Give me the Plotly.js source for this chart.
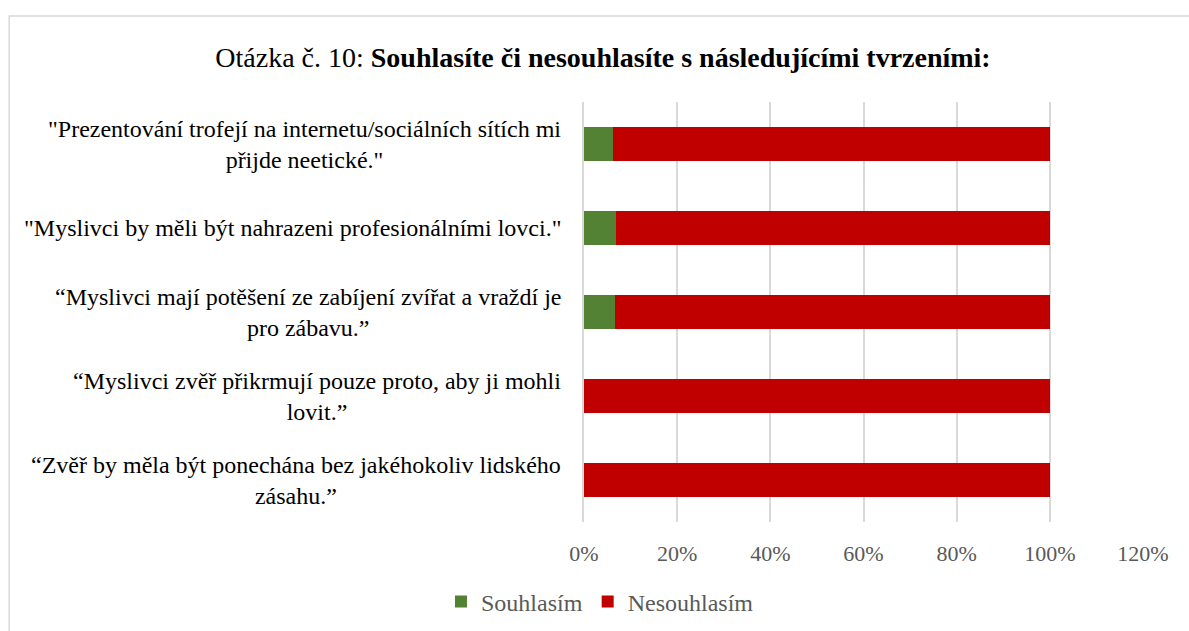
<!DOCTYPE html>
<html>
<head>
<meta charset="utf-8">
<script src="https://cdn.plot.ly/plotly-3.0.1.min.js"></script>
<style>
  html, body { margin: 0; padding: 0; background: #fff; }
  #chart { width: 1189px; height: 631px; }
</style>
</head>
<body>
<div id="chart"></div>
<script>
// Data
const categories = [
  '"Prezentování trofejí na internetu/sociálních sítích mi<br>přijde neetické."',
  '"Myslivci by měli být nahrazeni profesionálními lovci."',
  '“Myslivci mají potěšení ze zabíjení zvířat a vraždí je<br>pro zábavu.”',
  '“Myslivci zvěř přikrmují pouze proto, aby ji mohli<br>lovit.”',
  '“Zvěř by měla být ponechána bez jakéhokoliv lidského<br>zásahu.”'
];
const souhlasim = [0.063, 0.068, 0.067, 0, 0];
const nesouhlasim = [0.937, 0.932, 0.933, 1, 1];
const seriesNames = ['Souhlasím', 'Nesouhlasím'];
const tickValues = [0, 0.2, 0.4, 0.6, 0.8, 1.0, 1.2];
const tickLabels = ['0%', '20%', '40%', '60%', '80%', '100%', '120%'];

const serif = 'Liberation Serif, serif';

const traces = [
  {
    type: 'bar', orientation: 'h', name: seriesNames[0],
    y: categories, x: souhlasim,
    marker: { color: '#548235' }, hoverinfo: 'x+name'
  },
  {
    type: 'bar', orientation: 'h', name: seriesNames[1],
    y: categories, x: nesouhlasim,
    marker: { color: '#C00000' }, hoverinfo: 'x+name'
  }
];

const annotations = categories.map(c => ({
  xref: 'paper', yref: 'y', x: 0, y: c,
  xanchor: 'right', yanchor: 'middle', xshift: -21,
  align: 'center', showarrow: false,
  text: c,
  font: { family: serif, size: 24, color: '#000000' }
}));

const layout = {
  width: 1189, height: 631,
  paper_bgcolor: '#ffffff', plot_bgcolor: '#ffffff',
  margin: { l: 584, r: 46, t: 102, b: 109 },
  barmode: 'stack', bargap: 0.6,
  font: { family: serif },
  title: {
    text: 'Otázka č. 10: <b>Souhlasíte či nesouhlasíte s následujícími tvrzeními:</b>',
    font: { family: serif, size: 28, color: '#000000' },
    x: 603 / 1189, xref: 'container', xanchor: 'center',
    y: 1 - 57 / 631, yref: 'container', yanchor: 'middle'
  },
  xaxis: {
    range: [0, 1.2], tickvals: tickValues, ticktext: tickLabels,
    showgrid: true, gridcolor: '#d9d9d9', gridwidth: 1.5,
    zeroline: false, showline: false, ticks: '',
    tickfont: { family: serif, size: 22, color: '#595959' },
    ticklabelstandoff: 16, fixedrange: true
  },
  yaxis: {
    type: 'category', autorange: 'reversed',
    showticklabels: false, showgrid: false, zeroline: false,
    showline: true, linecolor: '#d9d9d9', linewidth: 1.5, ticks: '', fixedrange: true
  },
  legend: {
    orientation: 'h', traceorder: 'normal',
    xref: 'container', yref: 'container',
    x: 600 / 1189, xanchor: 'center',
    y: 1 - 602 / 631, yanchor: 'middle',
    font: { family: serif, size: 24, color: '#595959' },
    itemwidth: 30
  },
  annotations: annotations,
  shapes: [{
    type: 'rect', xref: 'paper', yref: 'paper',
    x0: (9 - 584) / 559.2, x1: (1200 - 584) / 559.2,
    y0: (522 - 640) / 420, y1: (522 - 16) / 420,
    line: { color: '#d9d9d9', width: 1.5 }, fillcolor: 'rgba(0,0,0,0)', layer: 'below'
  }],
  showlegend: true
};

Plotly.newPlot('chart', traces, layout, { displayModeBar: false });
</script>
</body>
</html>
